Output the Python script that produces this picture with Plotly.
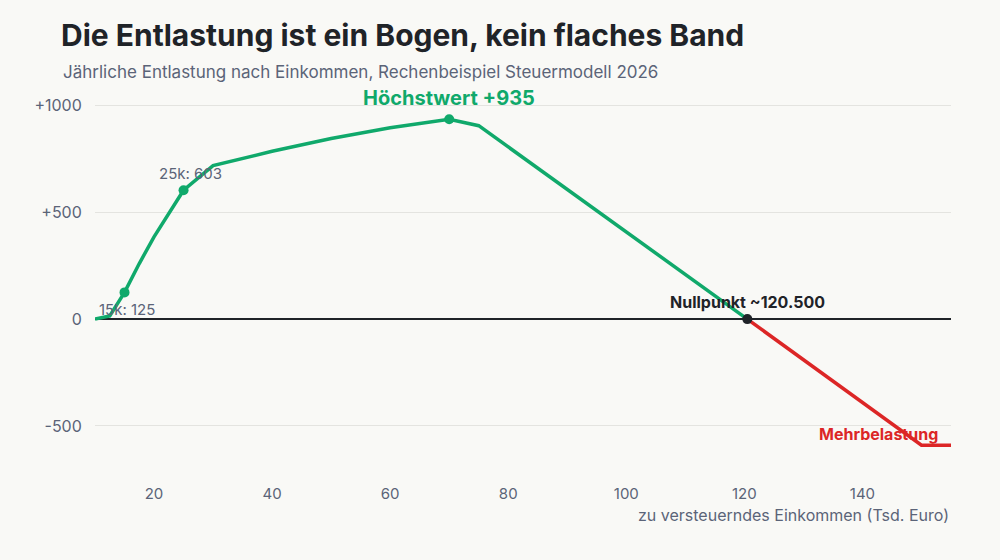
import plotly.graph_objects as go

# Data (income in Tsd. Euro, annual relief in Euro)
income = [10, 12.5, 15, 17.5, 20, 25, 30, 40, 50, 60, 70, 75, 120.5, 150, 155]
relief = [0, 15, 125, 260, 385, 603, 718, 785, 845, 895, 935, 905, 0, -590, -590]

y_tickvals = [-500, 0, 500, 1000]
y_ticktext = ["-500", "0", "+500", "+1000"]
x_tickvals = [20, 40, 60, 80, 100, 120, 140]

zero_x = 120.5
green_x = [x for x in income if x <= zero_x]
green_y = relief[:len(green_x)]
red_x = [x for x in income if x >= zero_x]
red_y = relief[len(income) - len(red_x):]

GREEN = "#10a96b"
RED = "#dc2626"
DARK = "#1f2328"
GRAY = "#5b6478"
BG = "#f9f9f6"
FONT = "Inter"

fig = go.Figure()
fig.add_trace(go.Scatter(x=green_x, y=green_y, mode="lines",
                         line=dict(color=GREEN, width=3.5), hoverinfo="skip"))
fig.add_trace(go.Scatter(x=red_x, y=red_y, mode="lines",
                         line=dict(color=RED, width=3.5), hoverinfo="skip"))

# highlighted points
hx = [15, 25, 70]
hy = [relief[income.index(v)] for v in hx]
fig.add_trace(go.Scatter(x=hx, y=hy, mode="markers",
                         marker=dict(color=GREEN, size=10), hoverinfo="skip"))
fig.add_trace(go.Scatter(x=[zero_x], y=[0], mode="markers",
                         marker=dict(color=DARK, size=10), hoverinfo="skip"))

ann = []
ann.append(dict(x=70, y=935, text="<b>Höchstwert +935</b>", showarrow=False,
                yshift=21, font=dict(color=GREEN, size=20, family=FONT)))
ann.append(dict(x=25, y=603, text="25k: 603", showarrow=False, xshift=7, yshift=17,
                font=dict(color=GRAY, size=15, family=FONT)))
ann.append(dict(x=15, y=125, text="15k: 125", showarrow=False, xshift=2, yshift=-17,
                font=dict(color=GRAY, size=15, family=FONT)))
ann.append(dict(x=zero_x, y=0, text="<b>Nullpunkt ~120.500</b>", showarrow=False,
                yshift=17, font=dict(color=DARK, size=16, family=FONT)))
ann.append(dict(x=155, y=-540, text="<b>Mehrbelastung</b>", showarrow=False,
                xanchor="right", xshift=-11, yshift=1,
                font=dict(color=RED, size=16, family=FONT)))
ann.append(dict(xref="paper", yref="paper", x=1, y=-0.078, xanchor="right", yanchor="top",
                text="zu versteuerndes Einkommen (Tsd. Euro)", showarrow=False,
                font=dict(color=GRAY, size=16, family=FONT)))
ann.append(dict(xref="paper", yref="paper", x=-0.042, y=1.126, xanchor="left",
                yanchor="middle", text="<b>Die Entlastung ist ein Bogen, kein flaches Band</b>",
                showarrow=False, font=dict(color=DARK, size=30, family=FONT)))
ann.append(dict(xref="paper", yref="paper", x=-0.040, y=1.031, xanchor="left",
                yanchor="middle", text="Jährliche Entlastung nach Einkommen, Rechenbeispiel Steuermodell 2026",
                showarrow=False, font=dict(color=GRAY, size=17, family=FONT)))

fig.update_layout(
    width=1000, height=560,
    paper_bgcolor=BG, plot_bgcolor=BG,
    margin=dict(l=95, r=49, t=84, b=87),
    showlegend=False,
    font=dict(family=FONT, color=GRAY, size=15),
    annotations=ann,
    xaxis=dict(range=[10, 155], tickvals=x_tickvals, showgrid=False, zeroline=False,
               showline=False, ticks="outside", ticklen=7, tickcolor="rgba(0,0,0,0)",
               tickfont=dict(size=15, color=GRAY)),
    yaxis=dict(range=[-720, 1100], tickvals=y_tickvals, ticktext=y_ticktext,
               showgrid=True, gridcolor="#e4e4e0", gridwidth=1,
               zeroline=True, zerolinecolor=DARK, zerolinewidth=1.5,
               showline=False, ticks="outside", ticklen=9, tickcolor="rgba(0,0,0,0)",
               tickfont=dict(size=16, color=GRAY)),
)

fig.write_html("out.html")
